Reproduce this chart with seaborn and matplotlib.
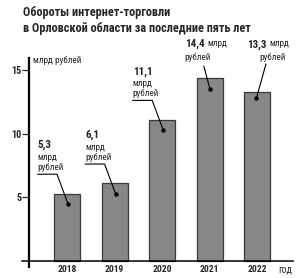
import matplotlib
matplotlib.use("Agg")
import matplotlib.pyplot as plt
import seaborn as sns
import pandas as pd

# ---- data ----
years = ["2018", "2019", "2020", "2021", "2022"]
values = [5.3, 6.1, 11.1, 14.4, 13.3]
value_labels = ["5,3", "6,1", "11,1", "14,4", "13,3"]
y_ticks = [5, 10, 15]
title = "Обороты интернет-торговли\nв Орловской области за последние пять лет"
unit_label = "млрд рублей"
x_axis_label = "год"

sns.set_style("white")
plt.rcParams['font.family'] = ['Roboto Condensed', 'Liberation Sans Narrow', 'Roboto', 'DejaVu Sans']

fig = plt.figure(figsize=(3, 2.78), dpi=100)
ax = fig.add_axes([22/300, 11/278, (293-22)/300, (267-58)/278])

df = pd.DataFrame({"year": years, "value": values})
sns.barplot(data=df, x="year", y="value", color="#878787", saturation=1,
            width=0.546, edgecolor="#3a3a3a", linewidth=0.9, ax=ax)

ax.set_xlim(-0.945, 4.748)
ax.set_ylim(-0.47, 15.95)
ax.set_xlabel("")
ax.set_ylabel("")

for s in ["top", "right"]:
    ax.spines[s].set_visible(False)
ax.spines["left"].set_position(("data", -0.798))
ax.spines["left"].set_linewidth(1.6)
ax.spines["left"].set_color("black")
ax.spines["bottom"].set_position(("data", 0))
ax.spines["bottom"].set_linewidth(1.1)
ax.spines["bottom"].set_color("black")

ax.set_yticks(y_ticks)
ax.set_yticklabels([str(t) for t in y_ticks])
ax.tick_params(axis="y", direction="out", length=5, width=0.9, pad=0.5,
               labelsize=7.2, left=True)
for lbl in ax.get_yticklabels():
    lbl.set_fontweight("bold")
ax.tick_params(axis="x", length=0, pad=3, labelsize=6.8)
for lbl in ax.get_xticklabels():
    lbl.set_fontweight("bold")

# unit label at top of y axis
ax.text(-0.715, 15.75, unit_label, fontsize=6.6, ha="left", va="center")
# x-axis unit
ax.annotate(x_axis_label, xy=(4.58, 0), xytext=(0, -5.8), textcoords="offset points",
            ha="center", va="center", fontsize=7)

# title
fig.text(23/300, 1 - 6/278, title, fontsize=8.8, fontweight="bold",
         ha="left", va="top", linespacing=1.3)

# value annotations (layout offsets relative to each bar: index, value)
num_fs = 8
small_fs = 6.6
for i in range(3):
    v = values[i]
    x0 = i - 0.62
    ax.text(x0, v + 3.8, value_labels[i], fontsize=num_fs, fontweight="bold",
            ha="left", va="center")
    ax.text(x0, v + 2.85, "млрд", fontsize=small_fs, ha="left", va="center")
    ax.text(x0, v + 2.05, "рублей", fontsize=small_fs, ha="left", va="center")
    ax.plot([x0, i - 0.21, i + 0.02], [v + 1.52, v + 1.52, v - 0.8],
            color="black", lw=0.8)
    ax.plot([i + 0.02], [v - 0.8], "o", color="black", ms=2.2)

# 2021
i, v = 3, values[3]
t = ax.text(i - 0.525, v + 2.42, value_labels[i], fontsize=num_fs, fontweight="bold",
            ha="left", va="baseline")
ax.annotate("млрд", xy=(1, 0), xycoords=t, xytext=(2, 1.2), textcoords="offset points",
            fontsize=small_fs, ha="left", va="bottom")
ax.text(i - 0.525, v + 1.55, "рублей", fontsize=small_fs, ha="left", va="center")
ax.plot([i - 0.126, i], [v + 0.92, v - 0.85], color="black", lw=0.8)
ax.plot([i], [v - 0.85], "o", color="black", ms=2.2)

# 2022
i, v = 4, values[4]
t = ax.text(i - 0.22, v + 3.5, value_labels[i], fontsize=num_fs, fontweight="bold",
            ha="left", va="baseline")
ax.annotate("млрд", xy=(1, 0), xycoords=t, xytext=(2, 1.2), textcoords="offset points",
            fontsize=small_fs, ha="left", va="bottom")
ax.text(i + 0.6, v + 2.72, "рублей", fontsize=small_fs, ha="right", va="center")
ax.plot([i + 0.18, i - 0.02], [v + 2.18, v - 0.5], color="black", lw=0.8)
ax.plot([i - 0.02], [v - 0.5], "o", color="black", ms=2.2)

fig.savefig("out.png", dpi=100)
